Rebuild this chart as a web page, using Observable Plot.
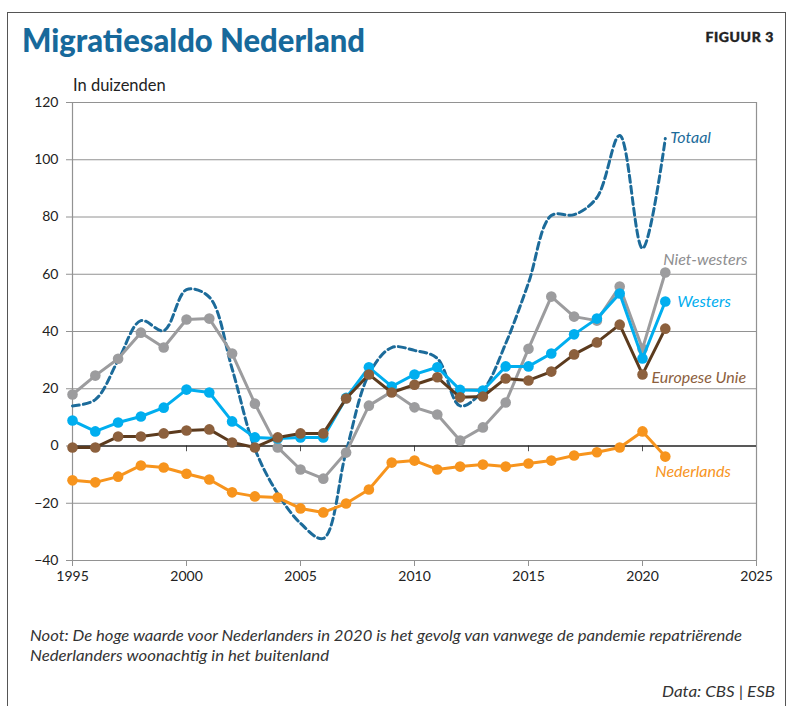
<!DOCTYPE html>
<html>
<head>
<meta charset="utf-8">
<script src="https://cdn.jsdelivr.net/npm/d3@7"></script>
<script src="https://cdn.jsdelivr.net/npm/@observablehq/plot@0.6"></script>
<style>
  html, body { margin: 0; padding: 0; background: #fff; }
  #wrap { position: relative; width: 793px; height: 706px; overflow: hidden; background: #fff; }
  #border { position: absolute; left: 7px; top: 12px; width: 779px; height: 720px; border: 1.5px solid #555; border-bottom: none; box-sizing: border-box; }
  #chart { position: absolute; left: 0; top: 0; }
  #texts { position: absolute; left: 0; top: 0; }
</style>
</head>
<body>
<div id="wrap">
  <div id="border"></div>
  <div id="chart"></div>
  <svg id="texts" width="793" height="706" font-family="Lato, 'Open Sans', sans-serif">
    <text x="22" y="52" font-size="32" font-weight="900" fill="#17699b" textLength="343" lengthAdjust="spacingAndGlyphs">Migratiesaldo Nederland</text>
    <text x="774" y="42" font-size="14" font-weight="900" fill="#222" text-anchor="end" letter-spacing="0.6" stroke="#222" stroke-width="0.4">FIGUUR 3</text>
    <text x="73" y="91" font-size="16.5" fill="#222">In duizenden</text>
    <text x="30" y="641" font-size="15" font-style="italic" fill="#333" textLength="712" lengthAdjust="spacingAndGlyphs">Noot: De hoge waarde voor Nederlanders in 2020 is het gevolg van vanwege de pandemie repatriërende</text>
    <text x="30" y="661" font-size="15" font-style="italic" fill="#333" textLength="299" lengthAdjust="spacingAndGlyphs">Nederlanders woonachtig in het buitenland</text>
    <text x="662" y="697" font-size="16" font-style="italic" fill="#333" textLength="113" lengthAdjust="spacingAndGlyphs">Data: CBS | ESB</text>
  </svg>
</div>
<script>
const years = [1995, 1996, 1997, 1998, 1999, 2000, 2001, 2002, 2003, 2004, 2005, 2006, 2007, 2008, 2009, 2010, 2011, 2012, 2013, 2014, 2015, 2016, 2017, 2018, 2019, 2020, 2021];
const totaal = [14, 16.2, 29.9, 43.8, 40.3, 54.6, 52, 27, -1, -16.6, -27, -32.3, -2, 25, 34.4, 33.4, 30.6, 14, 19.4, 35.8, 57, 80.5, 80.8, 86.8, 108.5, 69, 107.4];
const nietWesters = [18, 24.6, 30.5, 39.6, 34.4, 44.2, 44.5, 32.3, 14.8, -0.5, -8.2, -11.4, -2.3, 14.1, 19, 13.5, 11, 1.9, 6.5, 15.2, 34, 52.2, 45.2, 43.8, 55.7, 34, 60.6];
const westers = [8.9, 5.1, 8.2, 10.3, 13.4, 19.7, 18.7, 8.6, 3, 2.6, 3, 3, 16.8, 27.5, 20.8, 25, 27.5, 19.6, 19.4, 27.8, 27.8, 32.3, 39, 44.5, 53.3, 30.6, 50.5];
const europeseUnie = [-0.5, -0.5, 3.3, 3.3, 4.4, 5.4, 5.8, 1.2, -0.5, 3, 4.4, 4.4, 16.6, 25, 18.7, 21.4, 24, 17, 17.3, 23.6, 22.9, 26, 32, 36.2, 42.4, 25, 41];
const nederlands = [-12, -12.7, -10.7, -6.8, -7.5, -9.7, -11.7, -16.2, -17.6, -18, -21.8, -23.2, -20.1, -15.2, -5.8, -5.1, -8.2, -7.2, -6.5, -7.2, -6.1, -5.1, -3.3, -2.2, -0.5, 5.1, -3.7];
const yTicks = [-40, -20, 0, 20, 40, 60, 80, 100, 120];
const xTicks = [1995, 2000, 2005, 2010, 2015, 2020, 2025];

const rows = years.map((year, i) => ({
  year,
  totaal: totaal[i],
  nietWesters: nietWesters[i],
  westers: westers[i],
  europeseUnie: europeseUnie[i],
  nederlands: nederlands[i]
}));

const C = {
  totaal: "#1c6b9a",
  nietWesters: "#9c9c9e",
  westers: "#00aeef",
  euLine: "#5c3b1e",
  euDot: "#8c603d",
  nederlands: "#f7941d"
};

const last = rows.filter(d => d.year === 2021);
const y2020 = rows.filter(d => d.year === 2020);
const labelStyle = {fontStyle: "italic", fontSize: 16, textAnchor: "start", fontFamily: "Lato, sans-serif"};

const chart = Plot.plot({
  width: 793,
  height: 706,
  marginLeft: 72,
  marginRight: 37,
  marginTop: 102,
  marginBottom: 146,
  x: {domain: [1995, 2025]},
  y: {domain: [-40, 120]},
  style: {fontFamily: "Lato, 'Open Sans', sans-serif", fontSize: "14px", color: "#222", background: "transparent"},
  marks: [
    Plot.ruleY(yTicks.filter(d => d !== 0), {y: d => d, stroke: "#929292", strokeWidth: 1}),
    Plot.ruleX([1995, 2025], {x: d => d, y1: -40, y2: 120, stroke: "#929292", strokeWidth: 1.2}),
    Plot.axisY({ticks: yTicks, tickSize: 6, tickPadding: 8, label: null, stroke: "#929292", fill: "#222", fontSize: 14}),
    Plot.axisX({ticks: xTicks, tickSize: 6, tickPadding: 5, label: null, tickFormat: d => String(d), stroke: "#929292", fill: "#222", fontSize: 14}),
    Plot.ruleX(xTicks.filter(d => d > 1995 && d < 2025), {x: d => d, y1: 0, y2: -2, stroke: "#555", strokeWidth: 1}),
    Plot.ruleY([0], {stroke: "#222", strokeWidth: 1.5}),
    Plot.line(rows, {x: "year", y: "totaal", curve: "catmull-rom", stroke: C.totaal, strokeWidth: 3, strokeDasharray: "7,4"}),
    Plot.line(rows, {x: "year", y: "nietWesters", stroke: C.nietWesters, strokeWidth: 3}),
    Plot.dot(rows, {x: "year", y: "nietWesters", r: 5.3, fill: C.nietWesters}),
    Plot.line(rows, {x: "year", y: "westers", stroke: C.westers, strokeWidth: 3}),
    Plot.dot(rows, {x: "year", y: "westers", r: 5.3, fill: C.westers}),
    Plot.line(rows, {x: "year", y: "europeseUnie", stroke: C.euLine, strokeWidth: 3}),
    Plot.dot(rows, {x: "year", y: "europeseUnie", r: 5.3, fill: C.euDot}),
    Plot.line(rows, {x: "year", y: "nederlands", stroke: C.nederlands, strokeWidth: 3}),
    Plot.dot(rows, {x: "year", y: "nederlands", r: 5.3, fill: C.nederlands}),
    Plot.text(last, {x: "year", y: "totaal", text: () => "Totaal", dx: 5, dy: -1, fill: C.totaal, ...labelStyle}),
    Plot.text(last, {x: "year", y: "nietWesters", text: () => "Niet-westers", dx: -2, dy: -13, fill: "#8e8e90", ...labelStyle}),
    Plot.text(last, {x: "year", y: "westers", text: () => "Westers", dx: 12, dy: 0, fill: C.westers, ...labelStyle}),
    Plot.text(y2020, {x: "year", y: "europeseUnie", text: () => "Europese Unie", dx: 9, dy: 3, fill: C.euDot, ...labelStyle}),
    Plot.text(last, {x: "year", y: "nederlands", text: () => "Nederlands", dx: -10, dy: 15, fill: C.nederlands, ...labelStyle})
  ]
});
document.getElementById("chart").appendChild(chart);
</script>
</body>
</html>
